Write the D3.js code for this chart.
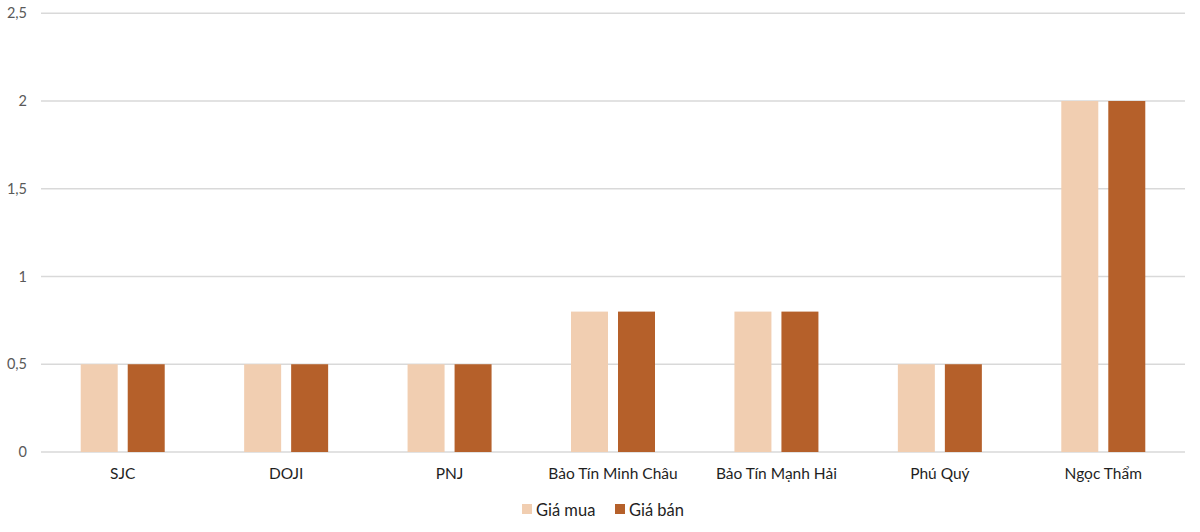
<!DOCTYPE html>
<html><head><meta charset="utf-8">
<script src="https://cdn.jsdelivr.net/npm/d3@7"></script>
<style>body{margin:0;background:#fff;font-family:Lato,"Open Sans",sans-serif;}</style>
</head><body>
<svg id="c" width="1200" height="532"></svg>
<script>
const categories = ["SJC","DOJI","PNJ","Bảo Tín Minh Châu","Bảo Tín Mạnh Hải","Phú Quý","Ngọc Thẩm"];
const seriesNames = ["Giá mua","Giá bán"];
const giaMua = [0.5,0.5,0.5,0.8,0.8,0.5,2];
const giaBan = [0.5,0.5,0.5,0.8,0.8,0.5,2];
const yTicks = [0,0.5,1,1.5,2,2.5];
const colors = ["#F1CEB1","#B5602A"];

const svg = d3.select("#c");
const x = d3.scaleBand().domain(categories).range([41,1185]);
const y = d3.scaleLinear().domain([0,2.5]).range([452,13.25]);
const x1 = d3.scaleBand().domain(seriesNames).range([0,84]).paddingInner(0.213);
const fmt = d => String(d).replace(".",",");

svg.append("g").selectAll("line").data(yTicks).join("line")
  .attr("x1",41).attr("x2",1185).attr("y1",d=>y(d)).attr("y2",d=>y(d))
  .attr("stroke","#D9D9D9").attr("stroke-width",1.3);
svg.append("g").selectAll("text").data(yTicks).join("text")
  .attr("x",27).attr("y",d=>y(d)+5).attr("text-anchor","end")
  .attr("font-size",14.5).attr("fill","#595959").text(fmt);

const data = [giaMua, giaBan];
const groups = svg.append("g").selectAll("g").data(categories).join("g")
  .attr("transform",c=>`translate(${x(c)+x.bandwidth()/2-42},0)`);
groups.selectAll("rect").data((c,i)=>seriesNames.map((s,j)=>({s,v:data[j][i],j}))).join("rect")
  .attr("x",d=>x1(d.s)).attr("width",x1.bandwidth())
  .attr("y",d=>y(d.v)).attr("height",d=>y(0)-y(d.v)).attr("fill",d=>colors[d.j]);

svg.append("g").selectAll("text").data(categories).join("text")
  .attr("x",c=>x(c)+x.bandwidth()/2).attr("y",479).attr("text-anchor","middle")
  .attr("font-size",15.5).attr("fill","#1f1f1f").text(c=>c);

const leg = svg.append("g");
const legX = [522,615];
seriesNames.forEach((s,i)=>{
  leg.append("rect").attr("x",legX[i]).attr("y",504).attr("width",10).attr("height",10).attr("fill",colors[i]);
  leg.append("text").attr("x",legX[i]+14).attr("y",515.5).attr("font-size",16.5).attr("fill","#1f1f1f").text(s);
});
</script>
</body></html>
